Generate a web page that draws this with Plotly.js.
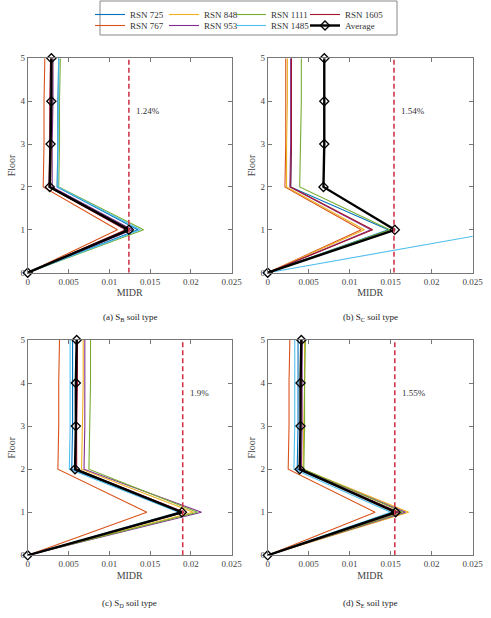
<!DOCTYPE html>
<html><head><meta charset="utf-8">
<script src="https://cdn.plot.ly/plotly-3.0.1.min.js"></script>
<style>html,body{margin:0;padding:0;background:#fff}#chart{width:491px;height:618px}</style>
</head><body><div id="chart"></div>
<script>
const floors = [0, 1, 2, 3, 4, 5];
const seriesNames = ['RSN 725', 'RSN 767', 'RSN 848', 'RSN 953', 'RSN 1111', 'RSN 1485', 'RSN 1605', 'Average'];
const xTicks = [0, 0.005, 0.01, 0.015, 0.02, 0.025];
const xTickLabels = ['0', '0.005', '0.01', '0.015', '0.02', '0.025'];
const yTicks = [0, 1, 2, 3, 4, 5];

// MIDR per floor, rows follow seriesNames
const midrSB = [
  [0, 0.0135, 0.0036, 0.0037, 0.0037, 0.0038],
  [0, 0.0110, 0.0019, 0.0020, 0.0020, 0.0021],
  [0, 0.0125, 0.0028, 0.0029, 0.0029, 0.0030],
  [0, 0.0128, 0.0030, 0.0030, 0.0031, 0.0031],
  [0, 0.0142, 0.0038, 0.0039, 0.0039, 0.0040],
  [0, 0.0138, 0.0037, 0.0037, 0.0038, 0.0038],
  [0, 0.0120, 0.0026, 0.0027, 0.0027, 0.0028],
  [0, 0.0124, 0.0027, 0.0028, 0.0029, 0.0029]
];
const midrSC = [
  [0, 0.0147, 0.0028, 0.0029, 0.0029, 0.0029],
  [0, 0.0114, 0.0021, 0.0022, 0.0022, 0.0022],
  [0, 0.0118, 0.0023, 0.0023, 0.0024, 0.0024],
  [0, 0.0126, 0.0027, 0.0028, 0.0028, 0.0028],
  [0, 0.0149, 0.0039, 0.0040, 0.0041, 0.0041],
  [0, 0.0295, 0.0310, 0.0312, 0.0313, 0.0315],
  [0, 0.0128, 0.0028, 0.0029, 0.0029, 0.0029],
  [0, 0.0155, 0.0068, 0.0069, 0.0069, 0.0069]
];
const midrSD = [
  [0, 0.0190, 0.0054, 0.0055, 0.0055, 0.0055],
  [0, 0.0146, 0.0037, 0.0038, 0.0038, 0.0039],
  [0, 0.0203, 0.0066, 0.0067, 0.0068, 0.0068],
  [0, 0.0213, 0.0069, 0.0070, 0.0070, 0.0070],
  [0, 0.0208, 0.0075, 0.0076, 0.0077, 0.0077],
  [0, 0.0185, 0.0051, 0.0052, 0.0052, 0.0052],
  [0, 0.0192, 0.0060, 0.0060, 0.0061, 0.0061],
  [0, 0.0189, 0.0058, 0.0059, 0.0059, 0.0060]
];
const midrSE = [
  [0, 0.0158, 0.0036, 0.0037, 0.0037, 0.0037],
  [0, 0.0131, 0.0025, 0.0026, 0.0026, 0.0027],
  [0, 0.0172, 0.0043, 0.0044, 0.0045, 0.0045],
  [0, 0.0168, 0.0041, 0.0042, 0.0042, 0.0042],
  [0, 0.0165, 0.0044, 0.0045, 0.0045, 0.0046],
  [0, 0.0150, 0.0032, 0.0033, 0.0033, 0.0033],
  [0, 0.0160, 0.0040, 0.0040, 0.0041, 0.0041],
  [0, 0.0156, 0.0039, 0.0040, 0.0040, 0.0041]
];
const limits = [0.0124, 0.0154, 0.019, 0.0155];
const limitLabels = ['1.24%', '1.54%', '1.9%', '1.55%'];
const captions = ['(a) S<sub>B</sub> soil type', '(b) S<sub>C</sub> soil type', '(c) S<sub>D</sub> soil type', '(d) S<sub>E</sub> soil type'];

const colors = ['#0072BD', '#D95319', '#EDB120', '#7E2F8E', '#77AC30', '#4DBEEE', '#A2142F', '#000000'];
const FONT = 'Liberation Serif, Times New Roman, serif';
const W = 491, H = 618;

const panels = [midrSB, midrSC, midrSD, midrSE];
const traces = [];
const legendId = s => (s === 0 ? 'legend' : 'legend' + (s + 1));
panels.forEach((panel, p) => {
  const xa = p === 0 ? 'x' : 'x' + (p + 1);
  const ya = p === 0 ? 'y' : 'y' + (p + 1);
  panel.forEach((vals, s) => {
    const isAvg = s === 7;
    const tr = {
      type: 'scatter', x: vals, y: floors, xaxis: xa, yaxis: ya,
      name: seriesNames[s], legend: legendId(s), showlegend: p === 0,
      mode: isAvg ? 'lines+markers' : 'lines',
      line: {color: colors[s], width: isAvg ? 2.4 : 1.1},
      cliponaxis: false,
      hoverinfo: 'skip'
    };
    if (isAvg) tr.marker = {symbol: 'diamond-open', size: 7, color: '#000', line: {width: 1.3}};
    traces.push(tr);
  });
  traces.push({
    type: 'scatter', x: [limits[p], limits[p]], y: [0, 5], xaxis: xa, yaxis: ya,
    mode: 'lines', showlegend: false, line: {color: '#D0384A', width: 1.6, dash: '5px,3px'}, hoverinfo: 'skip'
  });
});

const xDomains = [[27.7 / W, 231.7 / W], [267.7 / W, 472.7 / W]];
const yDomains = [[1 - 272.7 / H, 1 - 58.3 / H], [1 - 555.3 / H, 1 - 340 / H]];

function xAxis(col, anchor) {
  return {
    domain: xDomains[col], anchor: anchor, range: [0, 0.025],
    tickvals: xTicks, ticktext: xTickLabels, ticks: 'inside', ticklen: 4, tickcolor: '#777',
    showline: true, linecolor: '#777', linewidth: 1, mirror: 'ticks', showgrid: false, zeroline: false,
    tickfont: {family: FONT, size: 9, color: '#444'},
    title: {text: 'MIDR', font: {family: FONT, size: 10, color: '#444'}, standoff: 3}
  };
}
function yAxis(row, anchor) {
  return {
    domain: yDomains[row], anchor: anchor, range: [0, 5],
    tickvals: yTicks, ticks: 'inside', ticklen: 4, tickcolor: '#777',
    showline: true, linecolor: '#777', linewidth: 1, mirror: 'ticks', showgrid: false, zeroline: false,
    tickfont: {family: FONT, size: 9, color: '#444'},
    title: {text: 'Floor', font: {family: FONT, size: 10, color: '#444'}, standoff: 2}
  };
}

const annotations = [];
const axNames = [['x', 'y'], ['x2', 'y2'], ['x3', 'y3'], ['x4', 'y4']];
limits.forEach((v, p) => {
  annotations.push({
    xref: axNames[p][0], yref: axNames[p][1], x: v + 0.0006, y: 3.77,
    text: limitLabels[p], showarrow: false, xanchor: 'left', yanchor: 'middle',
    font: {family: FONT, size: 9, color: '#333'}
  });
});
const capX = [129.7 / W, 370 / W, 129.7 / W, 370 / W];
const capY = [1 - 317 / H, 1 - 317 / H, 1 - 603 / H, 1 - 603 / H];
captions.forEach((c, p) => {
  annotations.push({
    xref: 'paper', yref: 'paper', x: capX[p], y: capY[p], text: c, showarrow: false,
    xanchor: 'center', yanchor: 'middle', font: {family: FONT, size: 9, color: '#222'}
  });
});

const layout = {
  width: W, height: H, margin: {l: 0, r: 0, t: 0, b: 0},
  paper_bgcolor: '#fff', plot_bgcolor: '#fff',
  font: {family: FONT, color: '#333'},
  xaxis: xAxis(0, 'y'), yaxis: yAxis(0, 'x'),
  xaxis2: xAxis(1, 'y2'), yaxis2: yAxis(0, 'x2'),
  xaxis3: xAxis(0, 'y3'), yaxis3: yAxis(1, 'x3'),
  xaxis4: xAxis(1, 'y4'), yaxis4: yAxis(1, 'x4'),
  shapes: [{type: 'rect', xref: 'paper', yref: 'paper', x0: 100 / W, x1: 397 / W, y0: 1 - 35 / H, y1: 1 - 1 / H,
    line: {color: '#888', width: 1}}],
  annotations: annotations
};
// one small legend per entry, laid out in a 4 x 2 grid inside the box
const legendTextX = [132, 206, 273, 347];
seriesNames.forEach((n, s) => {
  const col = Math.floor(s / 2), row = s % 2;
  layout[legendId(s)] = {
    orientation: 'h', xanchor: 'left', yanchor: 'top', bgcolor: 'rgba(0,0,0,0)', borderwidth: 0,
    font: {family: FONT, size: 9, color: '#333'}, itemwidth: 30,
    x: (legendTextX[col] - 42) / W, y: 1 - (row === 0 ? 0 : 11) / H
  };
});

Plotly.newPlot('chart', traces, layout, {staticPlot: true, displayModeBar: false});
</script></body></html>
